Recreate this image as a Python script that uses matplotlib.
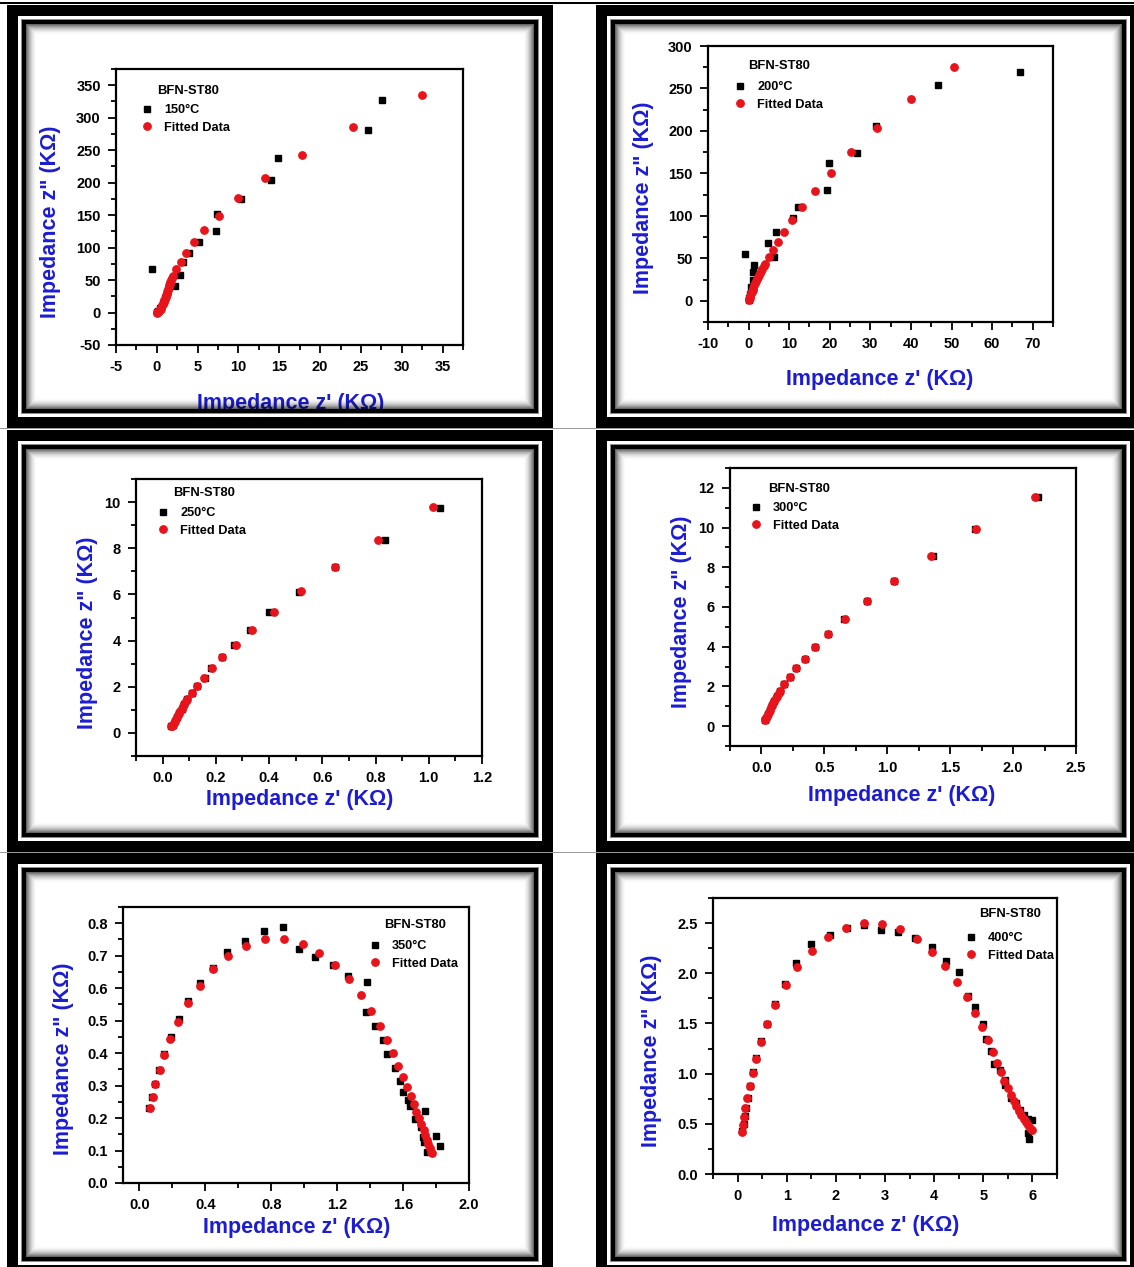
import numpy as np
import matplotlib
matplotlib.use("Agg")
import matplotlib.pyplot as plt
import matplotlib.transforms as mtransforms
from matplotlib.ticker import MultipleLocator
from matplotlib.lines import Line2D

W, H = 1134, 1267

plt.rcParams['font.family'] = ['Liberation Sans', 'DejaVu Sans']
plt.rcParams['font.weight'] = 'bold'
plt.rcParams['axes.unicode_minus'] = False

# =========================
# DATA (Z' , Z'' in kOhm)
# =========================
t150_re = [0.05, 0.2, 0.4, 0.7, 1.0, 1.3, 2.26, 2.83, -0.57, 3.26, 3.9, 5.2, 7.26, 7.35, 10.3, 14.0, 14.9, 25.9, 27.6]
t150_im = [0.5, 2, 7, 14, 22, 32, 41.5, 57.3, 67.6, 78.3, 91, 108, 125, 151.5, 174.5, 204, 238, 281, 327]
t150_fit_re = [0.0, 0.05, 0.15, 0.25, 0.35, 0.46, 0.57, 0.66, 0.74, 0.83, 0.91, 1.0, 1.09, 1.16, 1.22, 1.29, 1.35,
               1.42, 1.48, 1.54, 1.6, 1.67, 1.74, 1.85, 1.96, 2.35, 2.9, 3.57, 4.57, 5.8, 7.6, 10.0, 13.3, 17.8, 24.0, 32.5]
t150_fit_im = [0.0, 0.2, 1.0, 2.2, 3.6, 6.0, 8.7, 11.2, 13.8, 16.4, 19.0, 21.5, 24.0, 26.6, 29.2, 31.8, 34.3,
               36.9, 39.4, 42.0, 44.5, 47.0, 49.6, 53.0, 56.8, 67.0, 78.3, 92.0, 108.5, 127.4, 149.4, 176.0, 207.0, 243.0, 285.6, 334.7]

t200_re = [0.05, 0.2, 0.4, 0.7, 1.0, 1.15, 1.3, -0.9, 6.3, 4.9, 6.7, 10.9, 12.2, 19.2, 19.7, 26.7, 31.4, 46.7, 66.8]
t200_im = [0.5, 3, 8, 16, 25, 33.7, 41.9, 55.6, 51.3, 68.5, 81, 97.5, 110.5, 130.4, 162.5, 174.3, 206, 253.8, 269]
t200_fit_re = [0.1, 0.2, 0.3, 0.45, 0.6, 0.8, 1.0, 1.15, 1.3, 1.55, 1.8, 2.0, 2.2, 2.45, 2.7, 3.05, 3.4, 3.75, 4.1,
               5.0, 6.1, 7.2, 8.8, 10.8, 13.2, 16.4, 20.3, 25.3, 31.7, 40.0, 50.7]
t200_fit_im = [0.4, 2.0, 3.5, 6.0, 8.6, 10.8, 13.0, 15.5, 18.0, 20.5, 23.0, 25.5, 28.0, 30.5, 33.0, 35.3, 37.6, 40.5, 43.5,
               51.3, 60.0, 69.7, 81.0, 94.8, 110.5, 129.3, 150.4, 175.0, 204.0, 237.4, 275.7]

t250_re = [0.033, 0.04, 0.047, 0.055, 0.063, 0.071, 0.080, 0.092, 0.109, 0.128, 0.16, 0.183, 0.223, 0.267, 0.327,
           0.40, 0.511, 0.647, 0.836, 1.044]
t250_im = [0.29, 0.36, 0.51, 0.68, 0.85, 1.05, 1.26, 1.49, 1.73, 2.04, 2.38, 2.80, 3.28, 3.83, 4.48,
           5.25, 6.11, 7.17, 8.35, 9.73]
t250_fit_re = [0.033, 0.036, 0.04, 0.043, 0.047, 0.051, 0.055, 0.059, 0.063, 0.067, 0.071, 0.075, 0.080, 0.086, 0.092,
               0.109, 0.128, 0.155, 0.185, 0.223, 0.275, 0.337, 0.417, 0.52, 0.647, 0.811, 1.017]
t250_fit_im = [0.29, 0.32, 0.36, 0.43, 0.51, 0.60, 0.68, 0.76, 0.85, 0.95, 1.05, 1.15, 1.26, 1.37, 1.49,
               1.73, 2.04, 2.38, 2.80, 3.28, 3.83, 4.48, 5.25, 6.13, 7.17, 8.37, 9.77]

t300_re = [0.031, 0.034, 0.049, 0.066, 0.083, 0.103, 0.126, 0.151, 0.183, 0.223, 0.277, 0.346, 0.426, 0.531,
           0.66, 0.837, 1.057, 1.366, 1.694, 2.2]
t300_im = [0.32, 0.42, 0.63, 0.83, 1.05, 1.28, 1.54, 1.79, 2.11, 2.48, 2.91, 3.40, 3.97, 4.65,
           5.41, 6.32, 7.33, 8.57, 9.94, 11.56]
t300_fit_re = [0.031, 0.032, 0.034, 0.041, 0.049, 0.057, 0.066, 0.074, 0.083, 0.093, 0.103, 0.114, 0.126, 0.138,
               0.151, 0.183, 0.223, 0.277, 0.346, 0.426, 0.531, 0.666, 0.837, 1.057, 1.351, 1.703, 2.177]
t300_fit_im = [0.32, 0.37, 0.42, 0.52, 0.63, 0.73, 0.83, 0.94, 1.05, 1.16, 1.28, 1.41, 1.54, 1.66,
               1.79, 2.11, 2.48, 2.91, 3.40, 3.97, 4.65, 5.41, 6.32, 7.33, 8.57, 9.95, 11.56]

t350_re = [0.059, 0.078, 0.093, 0.12, 0.15, 0.191, 0.237, 0.296, 0.37, 0.446, 0.533, 0.641, 0.754, 0.874,
           0.967, 1.063, 1.172, 1.265, 1.378, 1.374, 1.43, 1.476, 1.5, 1.548, 1.58, 1.602, 1.63, 1.641,
           1.674, 1.707, 1.733, 1.72, 1.728, 1.748, 1.802, 1.824]
t350_im = [0.232, 0.266, 0.305, 0.348, 0.397, 0.449, 0.504, 0.561, 0.616, 0.663, 0.712, 0.746, 0.775, 0.788,
           0.722, 0.695, 0.67, 0.636, 0.619, 0.526, 0.483, 0.439, 0.396, 0.354, 0.315, 0.279, 0.255, 0.237,
           0.198, 0.171, 0.223, 0.143, 0.125, 0.096, 0.144, 0.115]
t350_fit_re = [0.061, 0.08, 0.096, 0.124, 0.15, 0.187, 0.235, 0.293, 0.365, 0.446, 0.539, 0.648, 0.763, 0.878,
               0.991, 1.091, 1.187, 1.274, 1.343, 1.407, 1.457, 1.502, 1.539, 1.572, 1.598, 1.622, 1.646, 1.665,
               1.68, 1.696, 1.711, 1.724, 1.735, 1.746, 1.754, 1.763, 1.772, 1.778]
t350_fit_im = [0.23, 0.266, 0.305, 0.348, 0.394, 0.443, 0.497, 0.553, 0.608, 0.658, 0.70, 0.731, 0.75, 0.75,
               0.735, 0.709, 0.671, 0.628, 0.578, 0.53, 0.483, 0.439, 0.399, 0.361, 0.327, 0.295, 0.268, 0.242,
               0.219, 0.199, 0.181, 0.163, 0.147, 0.132, 0.12, 0.108, 0.096, 0.091]

t400_re = [0.1, 0.13, 0.145, 0.174, 0.21, 0.246, 0.304, 0.384, 0.486, 0.609, 0.768, 0.971, 1.188, 1.5, 1.877,
           2.217, 2.572, 2.92, 3.268, 3.616, 3.949, 4.239, 4.507, 4.688, 4.833, 4.993, 5.065, 5.167, 5.217,
           5.348, 5.435, 5.44, 5.558, 5.667, 5.739, 5.833, 5.92, 5.993, 5.913, 5.928]
t400_im = [0.425, 0.498, 0.574, 0.657, 0.76, 0.88, 1.013, 1.155, 1.321, 1.497, 1.693, 1.889, 2.102, 2.291, 2.384,
           2.454, 2.477, 2.434, 2.407, 2.351, 2.258, 2.122, 2.012, 1.77, 1.663, 1.494, 1.348, 1.222, 1.096,
           1.033, 0.94, 0.89, 0.757, 0.707, 0.641, 0.584, 0.548, 0.535, 0.408, 0.349]
t400_fit_re = [0.094, 0.116, 0.138, 0.159, 0.196, 0.246, 0.304, 0.384, 0.478, 0.609, 0.768, 0.978, 1.217, 1.514,
               1.841, 2.21, 2.572, 2.949, 3.312, 3.645, 3.949, 4.225, 4.457, 4.659, 4.826, 4.971, 5.094, 5.188,
               5.275, 5.355, 5.428, 5.493, 5.558, 5.616, 5.667, 5.717, 5.768, 5.819, 5.87, 5.913, 5.957, 5.993]
t400_fit_im = [0.422, 0.488, 0.568, 0.654, 0.757, 0.873, 1.006, 1.149, 1.315, 1.497, 1.687, 1.879, 2.058, 2.224,
               2.361, 2.45, 2.497, 2.493, 2.44, 2.344, 2.214, 2.068, 1.916, 1.76, 1.607, 1.467, 1.335, 1.215,
               1.102, 1.013, 0.93, 0.853, 0.784, 0.727, 0.677, 0.631, 0.588, 0.548, 0.515, 0.485, 0.461, 0.442]

temps = ['150', '200', '250', '300', '350', '400']

RED = '#e8141c'
BLUE = '#1c1cd2'

# =========================
# LAYOUT (pixels, origin top-left)
# =========================
# axes box: left, right, top, bottom
boxes = [(116, 463, 69, 345), (708, 1053, 46, 322),
         (136, 482, 479, 756), (730, 1076, 468, 746),
         (123, 469, 907, 1183), (713, 1057, 898, 1174)]
limits = [((-5, 37.5), (-50, 375)), ((-10, 75), (-25, 300)),
          ((-0.1, 1.2), (-1, 11)), ((-0.25, 2.5), (-1, 13)),
          ((-0.1, 2.0), (0, 0.85)), ((-0.5, 6.5), (0, 2.75))]
steps = [(5, 2.5, 50, 25), (10, 5, 50, 25),
         (0.2, 0.1, 2, 1), (0.5, 0.25, 2, 1),
         (0.4, 0.2, 0.1, 0.05), (1, 0.5, 0.5, 0.25)]
ylabel_pos = [(51, 222), (643, 198), (87, 633), (681, 612), (63, 1059), (651, 1051)]
xlabel_pos = [(291, 404), (880, 380), (300, 800), (902, 795), (297, 1227), (866, 1225)]
# legend: marker x, first row y, title x, title y
legend_pos = [(140, 108, 157, 91), (733, 85, 748, 66), (156, 511, 173, 493),
              (749, 506, 768, 489), (368, 944, 384, 925), (964, 936, 979, 914)]

pix = mtransforms.Affine2D().scale(1, -1).translate(0, H)


def frame_overlay():
    img = np.zeros((H, W, 4))
    yy, xx = np.mgrid[0:H, 0:W]
    cols = [(7, 553), (596, 1141)]
    rows = [(5, 428), (430, 852), (853, 1276)]
    img[2:4, :] = [0, 0, 0, 1]
    img[428, :] = [0.6, 0.6, 0.6, 1]
    img[852, :] = [0.6, 0.6, 0.6, 1]
    for x0, x1 in cols:
        for y0, y1 in rows:
            d = np.minimum.reduce([xx - x0, x1 - 1 - xx, yy - y0, y1 - 1 - yy])
            img[(d >= 0) & (d < 11)] = [0, 0, 0, 1]
            img[(d >= 11) & (d < 14)] = [1, 1, 1, 1]
            img[d == 14] = [0.55, 0.55, 0.55, 1]
            img[(d >= 15) & (d < 19)] = [0, 0, 0, 1]
            g = (d >= 19) & (d < 30)
            a = 0.6 * (1 - (d[g] - 19) / 11.0) ** 2
            img[g, 0:3] = 0
            img[g, 3] = a
    return img


fig = plt.figure(figsize=(W / 100, H / 100), dpi=100)
fig.patch.set_facecolor('white')

series = [(t150_re, t150_im, t150_fit_re, t150_fit_im),
          (t200_re, t200_im, t200_fit_re, t200_fit_im),
          (t250_re, t250_im, t250_fit_re, t250_fit_im),
          (t300_re, t300_im, t300_fit_re, t300_fit_im),
          (t350_re, t350_im, t350_fit_re, t350_fit_im),
          (t400_re, t400_im, t400_fit_re, t400_fit_im)]

for i, (zr, zi, fr, fi) in enumerate(series):
    l, r, t, b = boxes[i]
    ax = fig.add_axes([l / W, 1 - b / H, (r - l) / W, (b - t) / H])
    ax.plot(zr, zi, 's', color='black', ms=4.8, ls='none')
    ax.plot(fr, fi, 'o', color=RED, ms=5.3, ls='none')
    ax.set_xlim(*limits[i][0])
    ax.set_ylim(*limits[i][1])
    xmaj, xmin, ymaj, ymin = steps[i]
    ax.xaxis.set_major_locator(MultipleLocator(xmaj))
    ax.xaxis.set_minor_locator(MultipleLocator(xmin))
    ax.yaxis.set_major_locator(MultipleLocator(ymaj))
    ax.yaxis.set_minor_locator(MultipleLocator(ymin))
    ax.tick_params(which='both', direction='out', width=1.3, top=False, right=False)
    ax.tick_params(which='major', length=6, labelsize=10.5, pad=5)
    ax.tick_params(which='minor', length=3.5)
    for s in ax.spines.values():
        s.set_linewidth(1.6)

    mx, my, tx, ty = legend_pos[i]
    handles = [Line2D([], [], marker='s', color='black', ms=4.8, ls='none'),
               Line2D([], [], marker='o', color=RED, ms=5.3, ls='none')]
    ax.legend(handles, [temps[i] + '°C', 'Fitted Data'], loc='upper left',
              bbox_to_anchor=(mx - 4.7, my - 10), bbox_transform=pix,
              frameon=False, borderpad=0, handlelength=0.8, handletextpad=0.95,
              labelspacing=0.42, prop={'weight': 'bold', 'size': 9.2})
    fig.text(tx, ty, 'BFN-ST80', transform=pix, ha='left', va='center',
             fontsize=9.4, weight='bold')

    lx, ly = xlabel_pos[i]
    fig.text(lx, ly, "Impedance z' (KΩ)", transform=pix, ha='center', va='center',
             fontsize=15.5, weight='bold', color=BLUE)
    yx, yy_ = ylabel_pos[i]
    fig.text(yx, yy_, 'Impedance z" (KΩ)', transform=pix, ha='center', va='center',
             rotation=90, fontsize=15.5, weight='bold', color=BLUE)

fig.figimage(frame_overlay(), xo=0, yo=0, origin='upper', zorder=10)

fig.savefig('out.png', dpi=100)
